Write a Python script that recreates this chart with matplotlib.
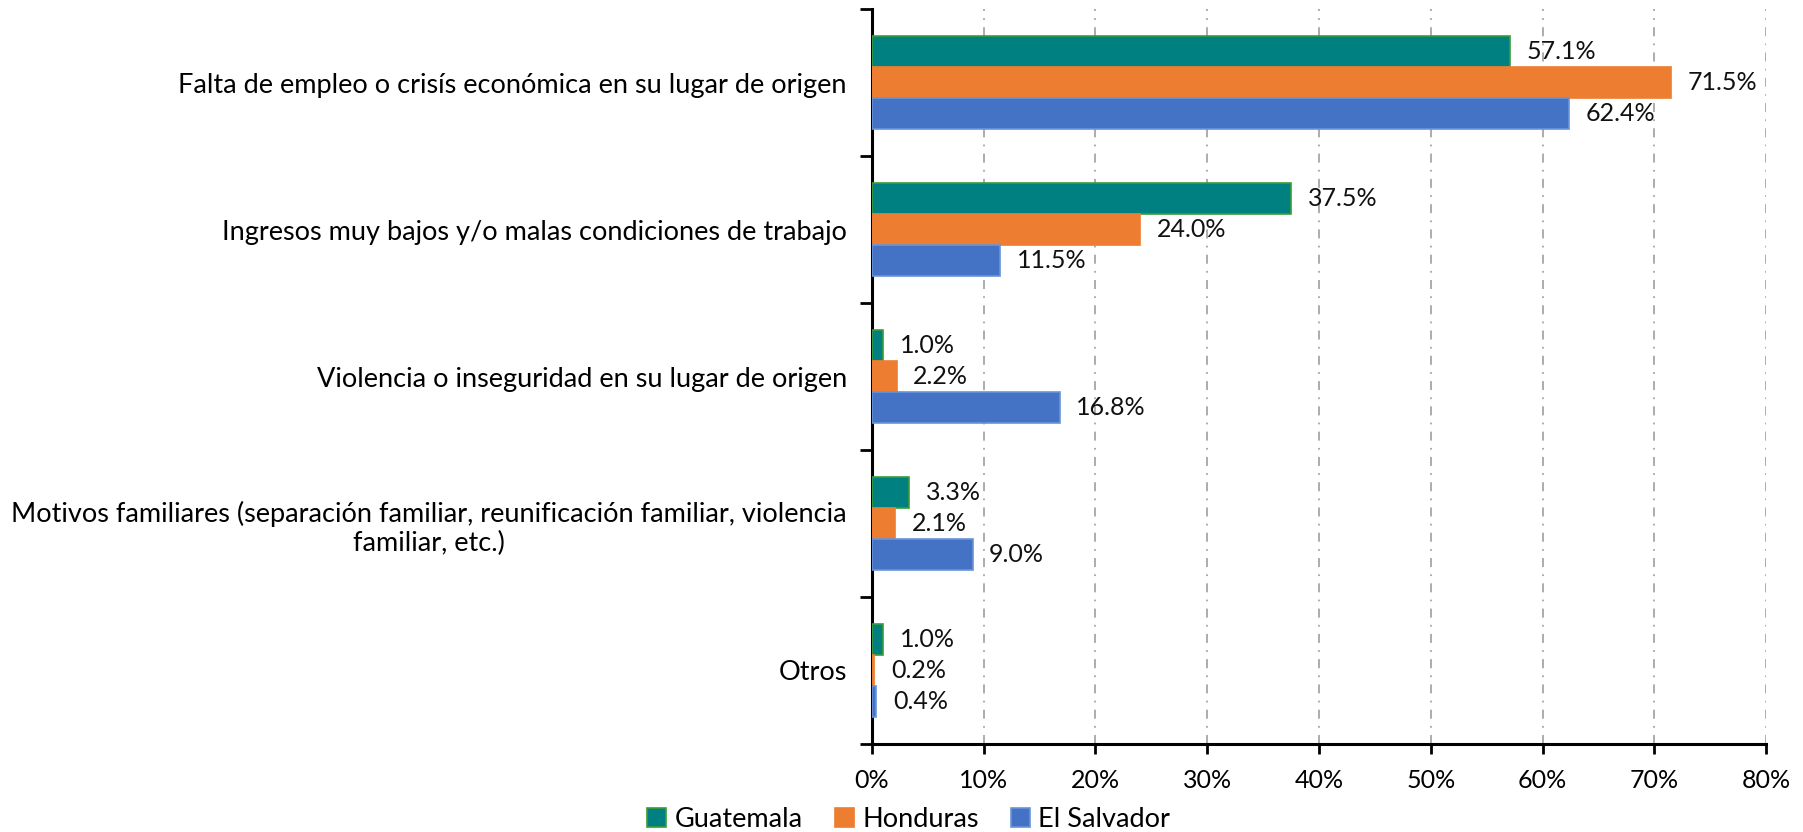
import matplotlib
matplotlib.use("Agg")
import matplotlib.pyplot as plt
import numpy as np
from matplotlib.ticker import FixedLocator, PercentFormatter

categories = [
    "Falta de empleo o crisís económica en su lugar de origen",
    "Ingresos muy bajos y/o malas condiciones de trabajo",
    "Violencia o inseguridad en su lugar de origen",
    "Motivos familiares (separación familiar, reunificación familiar, violencia\nfamiliar, etc.)",
    "Otros",
]
series_names = ["Guatemala", "Honduras", "El Salvador"]
guatemala = [57.1, 37.5, 1.0, 3.3, 1.0]
honduras = [71.5, 24.0, 2.2, 2.1, 0.2]
el_salvador = [62.4, 11.5, 16.8, 9.0, 0.4]
x_ticks = [0, 10, 20, 30, 40, 50, 60, 70, 80]

plt.rcParams['font.family'] = ['Lato', 'DejaVu Sans']

fig = plt.figure(figsize=(18.03, 8.32), dpi=100)
ax = fig.add_axes([0.4836, 0.1058, 0.4959, 0.8832])

series = [guatemala, honduras, el_salvador]
colors = ["#008080", "#ED7D31", "#4472C4"]
edges = ["#3A9D3A", "#ED7D31", "#6A93D8"]
n = len(categories)
y = np.arange(n)
bh = 0.21
offsets = [-bh, 0, bh]

for vals, name, c, ec, off in zip(series, series_names, colors, edges, offsets):
    bars = ax.barh(y + off, vals, height=bh, color=c, edgecolor=ec, linewidth=1.2, label=name, zorder=3)
    for b, v in zip(bars, vals):
        ax.annotate(f"{v:.1f}%", (v, b.get_y() + b.get_height() / 2), xytext=(12, 0),
                    textcoords="offset points", va="center", ha="left",
                    fontsize=18, color="#111111", zorder=4)

ax.set_ylim(n - 0.5, -0.5)
ax.set_xlim(0, 80)
ax.xaxis.set_major_locator(FixedLocator(x_ticks))
ax.xaxis.set_major_formatter(PercentFormatter(decimals=0))
ax.set_yticks(y)
ax.set_yticklabels(categories, fontsize=19.5, multialignment="center")
ax.yaxis.set_minor_locator(FixedLocator(np.arange(-0.5, n, 1.0)))
ax.tick_params(axis="y", which="major", length=0, pad=18)
ax.tick_params(axis="y", which="minor", length=9, width=2, direction="out")
ax.tick_params(axis="x", which="major", length=7, width=2, direction="out", labelsize=18, pad=11)

for s in ["top", "right"]:
    ax.spines[s].set_visible(False)
for s in ["left", "bottom"]:
    ax.spines[s].set_linewidth(2.2)
    ax.spines[s].set_color("black")

ax.grid(axis="x", color="#A6A6A6", linestyle=(0, (5, 4, 1, 4)), linewidth=1.3, zorder=0)
ax.set_axisbelow(True)

handles, labels = ax.get_legend_handles_labels()
leg = fig.legend(handles, labels, loc="center", bbox_to_anchor=(0.504, 0.015), ncol=3, frameon=False,
                 fontsize=19.5, handlelength=0.7, handleheight=0.7, handletextpad=0.3, columnspacing=1.2,
                 borderaxespad=0)

fig.savefig("out.png", dpi=100)
